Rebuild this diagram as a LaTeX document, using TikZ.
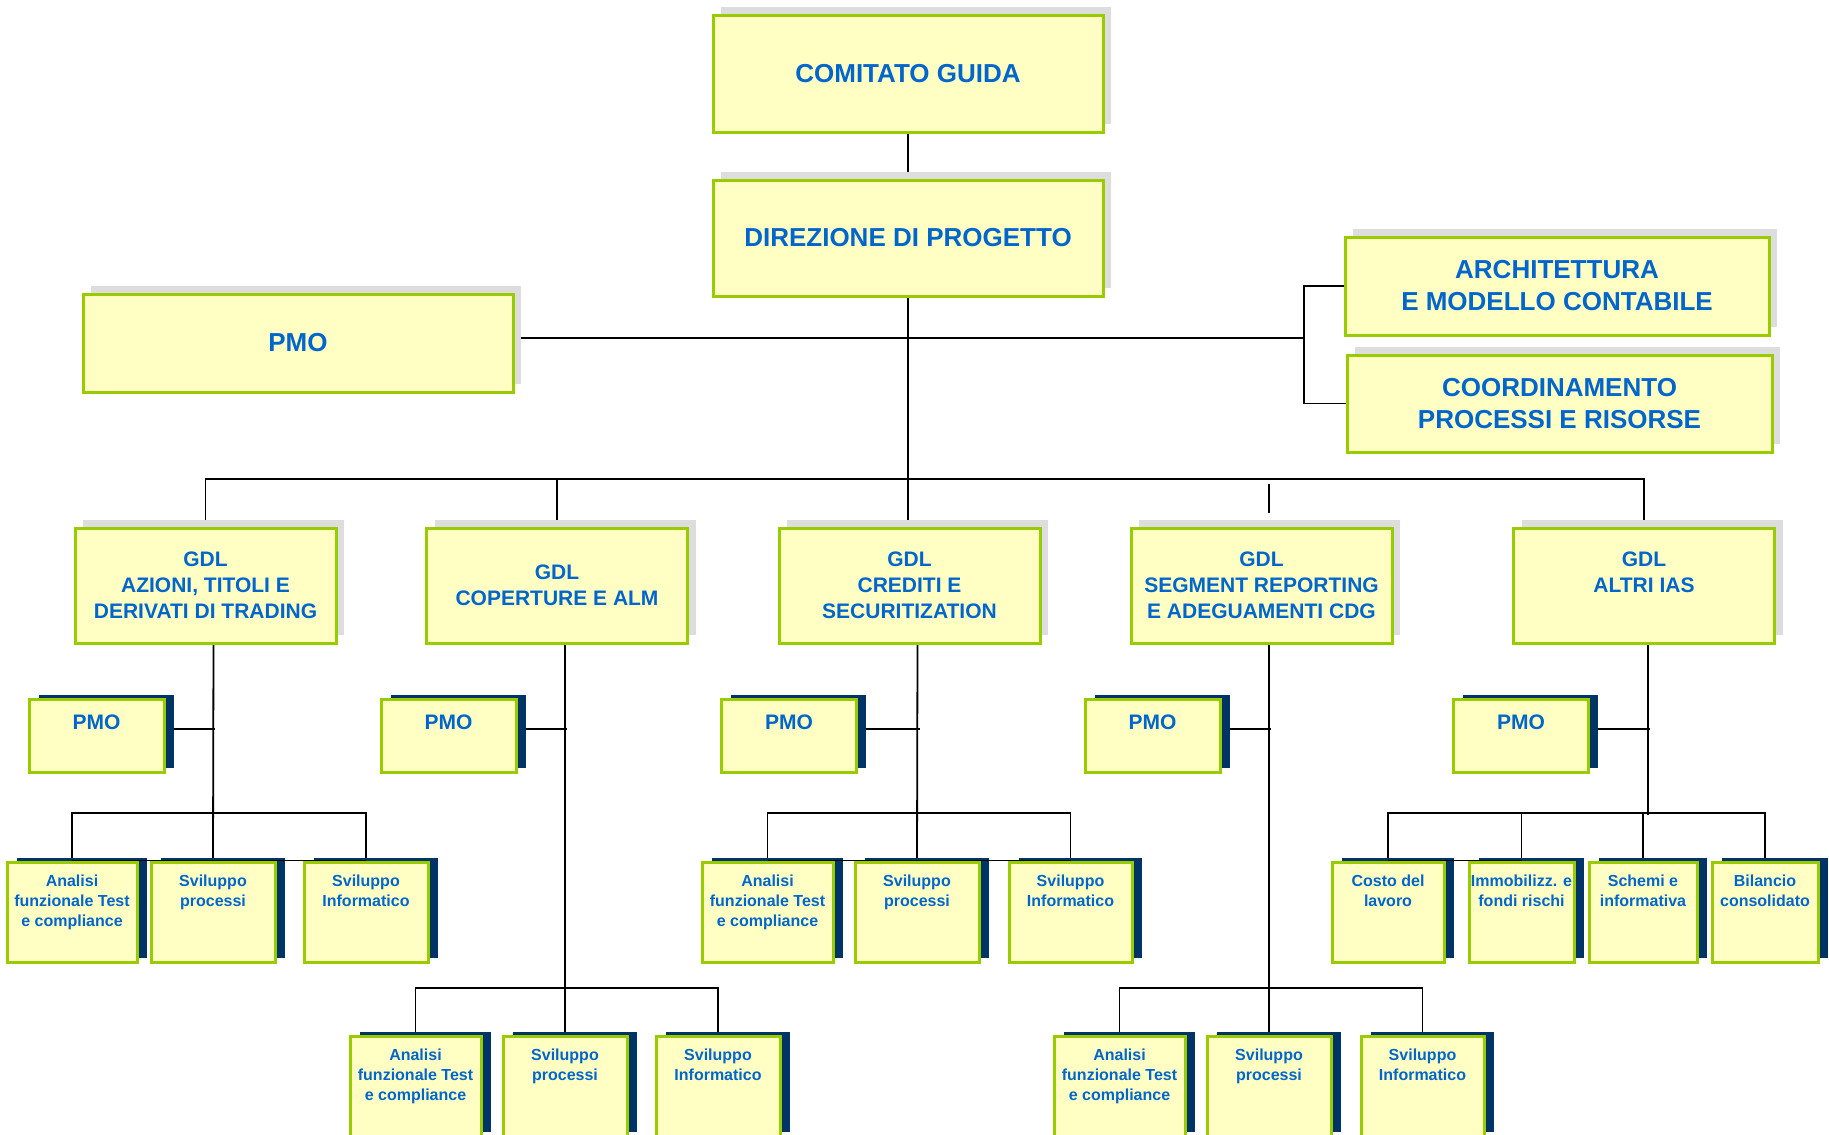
\documentclass[tikz,border=0pt]{standalone}
\usepackage{fontspec}
\setmainfont{Liberation Sans}
\usetikzlibrary{backgrounds}
\definecolor{boxfill}{HTML}{FFFFC4}
\definecolor{boxgreen}{HTML}{99CC00}
\definecolor{txtblue}{HTML}{0066CC}
\definecolor{shadenavy}{HTML}{003366}
\definecolor{shadegrey}{HTML}{DDDDDD}
\begin{document}
\begin{tikzpicture}[x=1pt,y=-1pt,
	conn/.style={line width=1.8pt,black},
	box/.style={draw=boxgreen,line width=3pt,fill=boxfill,inner sep=0pt,text=txtblue,align=center},
	bigbox/.style={box,preaction={fill=shadegrey,transform canvas={xshift=8pt,yshift=8pt}},font=\fontsize{26}{32}\selectfont\bfseries},
	gdlbox/.style={box,preaction={fill=shadegrey,transform canvas={xshift=8pt,yshift=8pt}},minimum width=261pt,minimum height=115pt,font=\fontsize{21}{26}\selectfont\bfseries},
	pmobox/.style={box,preaction={fill=shadenavy,transform canvas={xshift=9.5pt,yshift=4pt}},minimum width=135pt,minimum height=73pt},
	leafbox/.style={box,preaction={fill=shadenavy,transform canvas={xshift=9.5pt,yshift=4pt}},minimum height=100pt},
	pmotxt/.style={anchor=north,inner sep=0pt,text=txtblue,font=\fontsize{21}{26}\selectfont\bfseries},
	leaftxt/.style={anchor=north,inner sep=0pt,text=txtblue,align=center,font=\fontsize{16}{20}\selectfont\bfseries}]
	
	\useasboundingbox (0,0) rectangle (1829,1135);
	
	\node[bigbox,minimum width=390pt,minimum height=117pt] (com) at (908,73.5) {COMITATO GUIDA};
	\node[bigbox,minimum width=390pt,minimum height=116pt] (dir) at (908,238) {DIREZIONE DI PROGETTO};
	\node[bigbox,minimum width=430pt,minimum height=98pt] (pmo) at (298,343) {PMO};
	\node[bigbox,minimum width=424pt,minimum height=98pt] (arch) at (1557,286) {ARCHITETTURA\\E MODELLO CONTABILE};
	\node[bigbox,minimum width=425pt,minimum height=97pt] (coord) at (1559.5,403.5) {COORDINAMENTO\\PROCESSI E RISORSE};
	
	\node[gdlbox] (gdl1) at (205.5,585.5) {GDL\\AZIONI, TITOLI E\\DERIVATI DI TRADING};
	\node[gdlbox] (gdl2) at (557,585.5) {GDL\\COPERTURE E ALM};
	\node[gdlbox] (gdl3) at (909.5,585.5) {GDL\\CREDITI E\\SECURITIZATION};
	\node[gdlbox] (gdl4) at (1261.5,585.5) {GDL\\SEGMENT REPORTING\\E ADEGUAMENTI CDG};
	\node[gdlbox] (gdl5) at (1644,585.5) {GDL\\ALTRI IAS\\\mbox{}};
	
	\node[pmobox] (p1) at (96.5,735.5) {};
	\node[pmotxt] (p1t) at ([yshift=-17pt]p1.north) {PMO};
	\node[pmobox] (p2) at (448.5,735.5) {};
	\node[pmotxt] (p2t) at ([yshift=-17pt]p2.north) {PMO};
	\node[pmobox] (p3) at (789,735.5) {};
	\node[pmotxt] (p3t) at ([yshift=-17pt]p3.north) {PMO};
	\node[pmobox] (p4) at (1152.5,735.5) {};
	\node[pmotxt] (p4t) at ([yshift=-17pt]p4.north) {PMO};
	\node[pmobox] (p5) at (1521,735.5) {};
	\node[pmotxt] (p5t) at ([yshift=-17pt]p5.north) {PMO};
	
	\node[leafbox,minimum width=130pt] (a1) at (72,912) {};
	\node[leaftxt] (a1t) at ([yshift=-14pt]a1.north) {Analisi\\funzionale Test\\e compliance};
	\node[leafbox,minimum width=124pt] (b1) at (213,912) {};
	\node[leaftxt] (b1t) at ([yshift=-14pt]b1.north) {Sviluppo\\processi};
	\node[leafbox,minimum width=124pt] (c1) at (366,912) {};
	\node[leaftxt] (c1t) at ([yshift=-14pt]c1.north) {Sviluppo\\Informatico};
	
	\node[leafbox,minimum width=131pt] (a2) at (415.5,1086) {};
	\node[leaftxt] (a2t) at ([yshift=-14pt]a2.north) {Analisi\\funzionale Test\\e compliance};
	\node[leafbox,minimum width=124pt] (b2) at (565,1086) {};
	\node[leaftxt] (b2t) at ([yshift=-14pt]b2.north) {Sviluppo\\processi};
	\node[leafbox,minimum width=124pt] (c2) at (718,1086) {};
	\node[leaftxt] (c2t) at ([yshift=-14pt]c2.north) {Sviluppo\\Informatico};
	
	\node[leafbox,minimum width=131pt] (a3) at (767.5,912) {};
	\node[leaftxt] (a3t) at ([yshift=-14pt]a3.north) {Analisi\\funzionale Test\\e compliance};
	\node[leafbox,minimum width=124pt] (b3) at (917,912) {};
	\node[leaftxt] (b3t) at ([yshift=-14pt]b3.north) {Sviluppo\\processi};
	\node[leafbox,minimum width=123pt] (c3) at (1070.5,912) {};
	\node[leaftxt] (c3t) at ([yshift=-14pt]c3.north) {Sviluppo\\Informatico};
	
	\node[leafbox,minimum width=131pt] (a4) at (1119.5,1086) {};
	\node[leaftxt] (a4t) at ([yshift=-14pt]a4.north) {Analisi\\funzionale Test\\e compliance};
	\node[leafbox,minimum width=124pt] (b4) at (1269,1086) {};
	\node[leaftxt] (b4t) at ([yshift=-14pt]b4.north) {Sviluppo\\processi};
	\node[leafbox,minimum width=123pt] (c4) at (1422.5,1086) {};
	\node[leaftxt] (c4t) at ([yshift=-14pt]c4.north) {Sviluppo\\Informatico};
	
	\node[leafbox,minimum width=112pt] (a5) at (1388,912) {};
	\node[leaftxt] (a5t) at ([yshift=-14pt]a5.north) {Costo del\\lavoro};
	\node[leafbox,minimum width=105pt] (b5) at (1521.5,912) {};
	\node[leaftxt] (b5t) at ([yshift=-14pt]b5.north) {Immobilizz. e\\fondi rischi};
	\node[leafbox,minimum width=108pt] (c5) at (1643,912) {};
	\node[leaftxt] (c5t) at ([yshift=-14pt]c5.north) {Schemi e\\informativa};
	\node[leafbox,minimum width=106pt] (d5) at (1765,912) {};
	\node[leaftxt] (d5t) at ([yshift=-14pt]d5.north) {Bilancio\\consolidato};
	
	\coordinate (brk) at (1304,338);
	\coordinate (busT) at (908,479);
	\coordinate (s4a) at (1269,484);
	\coordinate (s4b) at (1269,513);
	\coordinate (bus1) at (213,813);
	\coordinate (bus2) at (565,988);
	\coordinate (bus3) at (917,813);
	\coordinate (bus4) at (1269,988);
	\coordinate (bus5) at (1643,813);
	
	\begin{scope}[on background layer]
		\draw[conn] (com.south) -- (dir.north);
		\draw[conn] (dir.south) -- (dir.south |- gdl3.north);
		\draw[conn] ([yshift=5pt]pmo.east) -- (brk);
		\draw[conn] (arch.west) -| (brk) |- (coord.west);
		\draw[conn] (gdl1.north) |- (busT) -| (gdl5.north);
		\draw[conn] (gdl2.north) -- (gdl2.north |- busT);
		\draw[conn] (s4a) -- (s4b);
		
		\draw[conn] ([xshift=8pt]gdl1.south) -- (b1.north);
		\draw[conn] ([yshift=6.5pt]p1.east) -- ++(49.5,0);
		\draw[conn] (a1.north) |- (bus1) -| (c1.north);
		
		\draw[conn] ([xshift=8pt]gdl2.south) -- (b2.north);
		\draw[conn] ([yshift=6.5pt]p2.east) -- ++(49,0);
		\draw[conn] (a2.north) |- (bus2) -| (c2.north);
		
		\draw[conn] ([xshift=8pt]gdl3.south) -- (b3.north);
		\draw[conn] ([yshift=6.5pt]p3.east) -- ++(61.5,0);
		\draw[conn] (a3.north) |- (bus3) -| (c3.north);
		
		\draw[conn] ([xshift=7.5pt]gdl4.south) -- (b4.north);
		\draw[conn] ([yshift=6.5pt]p4.east) -- ++(49,0);
		\draw[conn] (a4.north) |- (bus4) -| (c4.north);
		
		\draw[conn] ([xshift=4pt]gdl5.south) -- ++(0,170);
		\draw[conn] ([yshift=6.5pt]p5.east) -- ++(60,0);
		\draw[conn] (a5.north) |- (bus5) -| (d5.north);
		\draw[conn] (b5.north) -- (b5.north |- bus5);
		\draw[conn] (c5.north) -- (c5.north |- bus5);
	\end{scope}
	
	\draw[conn] (a1.north) -- (c1.north);
	\draw[conn] (a3.north) -- (c3.north);
	\draw[conn] (a5.north) -- (b5.north);
	
\end{tikzpicture}
\end{document}
